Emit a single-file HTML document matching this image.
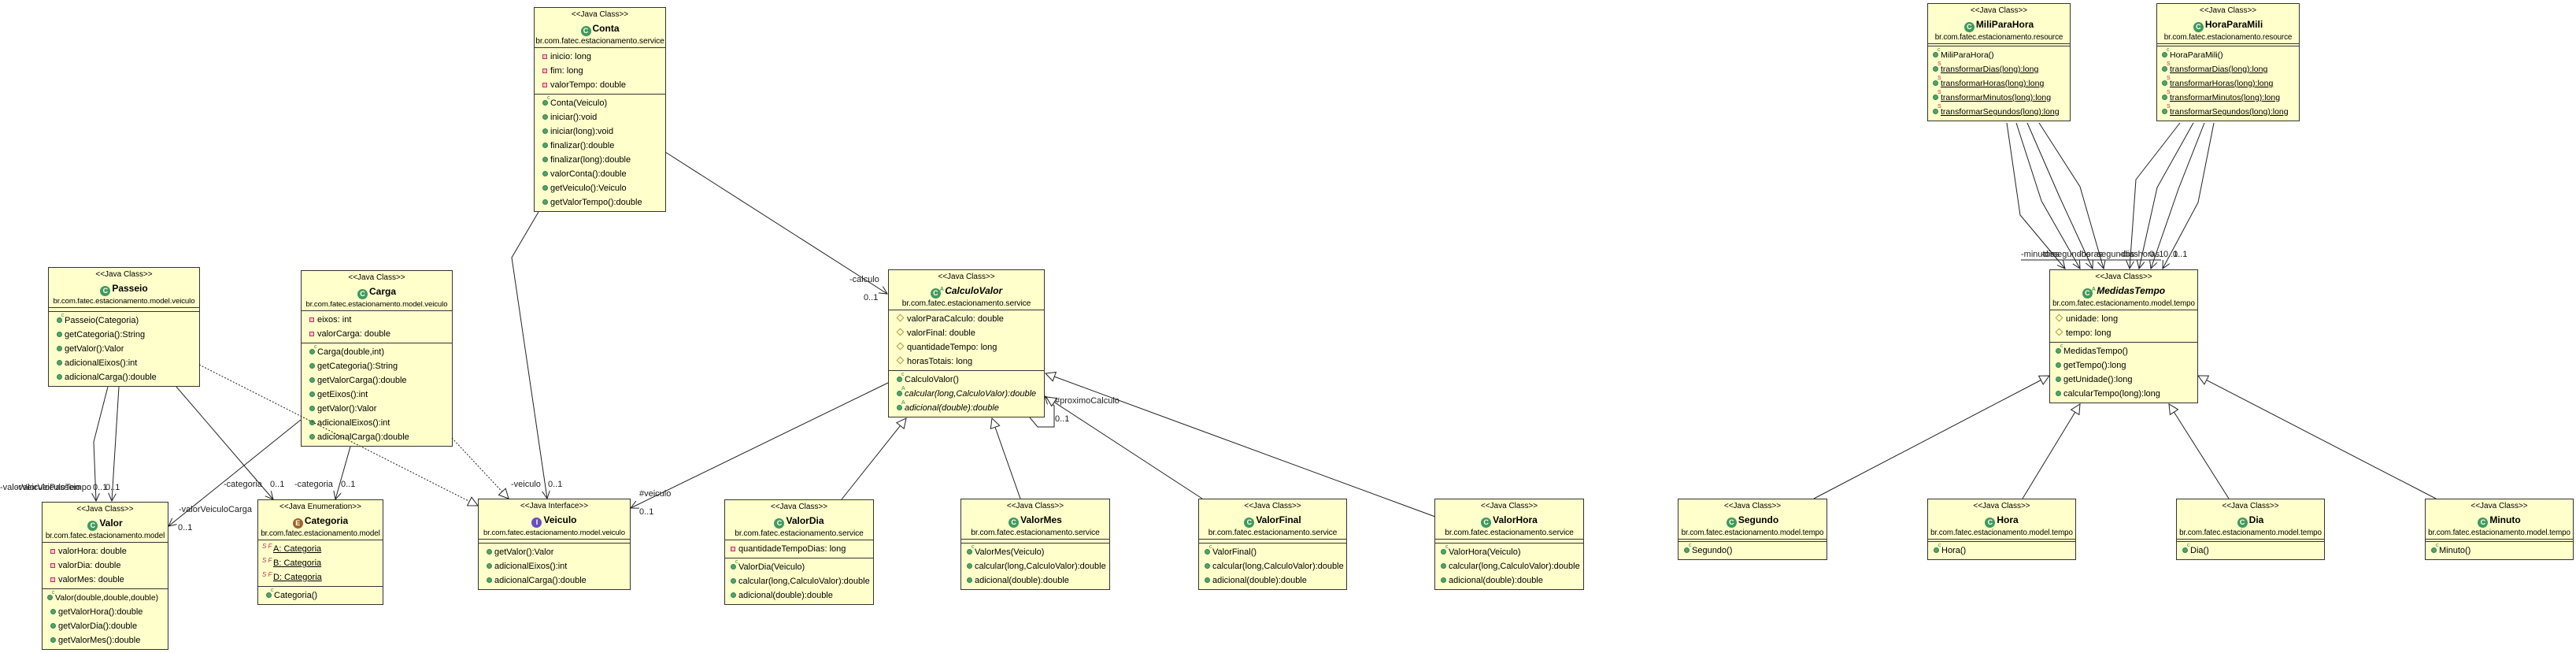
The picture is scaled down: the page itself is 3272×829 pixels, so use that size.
<!DOCTYPE html>
<html><head><meta charset="utf-8">
<style>
html,body{margin:0;padding:0;background:#fff;}
body{width:3272px;height:829px;position:relative;overflow:hidden;font-family:"Liberation Sans",Arial,sans-serif;color:#000;}
.b{position:absolute;box-sizing:border-box;background:#ffffcc;border:1px solid #333;}
.hd{height:51px;border-bottom:1px solid #333;text-align:center;white-space:nowrap;padding-top:1px;box-sizing:border-box;}
.st{font-size:10px;line-height:16px;}
.nm{font-size:12px;font-weight:bold;line-height:18px;}
.nm.it{font-style:italic;}
.pk{font-size:10.3px;line-height:14px;letter-spacing:-0.1px;}
.pk.v{font-size:9.6px;letter-spacing:-0.1px;}
.sec{padding:2px 0;border-bottom:1px solid #333;}
.sec:last-child{border-bottom:none;}
.r{height:18px;line-height:18px;font-size:11px;padding-left:10px;white-space:nowrap;position:relative;}
.r.it{font-style:italic;}
.r u{text-decoration:underline;}
.ic{display:inline-block;width:13px;height:13px;border-radius:50%;background:#3f9a5c;color:#fff;font-size:9px;font-style:normal;font-weight:bold;line-height:13px;text-align:center;vertical-align:-2px;margin-right:2px;position:relative;}
.ic.e{background:#a0642a;}
.ic.i{background:#6a4fc0;}
.ic sup{position:absolute;top:-5px;right:-4px;font-size:7px;color:#3f9a5c;}
.g{display:inline-block;width:7px;height:7px;border-radius:50%;background:#4fa46a;border:1px solid #3a8050;box-sizing:border-box;margin-right:3px;vertical-align:-0px;position:relative;}
.g b{position:absolute;left:5px;top:-7px;font-size:7px;font-weight:normal;line-height:8px;color:#2e8a4a;font-style:normal;}
.g b.s{color:#b0304a;}
.pv{display:inline-block;width:6px;height:6px;border:1.5px solid #c03a3a;background:#fbe;box-sizing:border-box;margin-right:4px;}
.pt{display:inline-block;width:5px;height:5px;border:1px solid #b09a40;transform:rotate(45deg);margin-right:5px;margin-left:1px;vertical-align:1px;}
.sf{display:inline-block;width:14px;font-size:8px;color:#b0304a;vertical-align:4px;line-height:8px;}
svg{position:absolute;left:0;top:0;}
svg text{font-family:"Liberation Sans",Arial,sans-serif;font-size:11px;fill:#222;}
</style></head><body>

<div class="b" style="left:678px;top:9px;width:168px;">
<div class="hd"><div class="st">&lt;&lt;Java Class&gt;&gt;</div><div class="nm"><i class="ic">C</i>Conta</div><div class="pk">br.com.fatec.estacionamento.service</div></div>
<div class="sec"><div class="r"><i class="pv"></i>inicio: long</div><div class="r"><i class="pv"></i>fim: long</div><div class="r"><i class="pv"></i>valorTempo: double</div></div>
<div class="sec"><div class="r"><i class="g"><b>c</b></i>Conta(Veiculo)</div><div class="r"><i class="g"></i>iniciar():void</div><div class="r"><i class="g"></i>iniciar(long):void</div><div class="r"><i class="g"></i>finalizar():double</div><div class="r"><i class="g"></i>finalizar(long):double</div><div class="r"><i class="g"></i>valorConta():double</div><div class="r"><i class="g"></i>getVeiculo():Veiculo</div><div class="r"><i class="g"></i>getValorTempo():double</div></div>
</div>

<div class="b" style="left:61px;top:339px;width:193px;">
<div class="hd"><div class="st">&lt;&lt;Java Class&gt;&gt;</div><div class="nm"><i class="ic">C</i>Passeio</div><div class="pk v">br.com.fatec.estacionamento.model.veiculo</div></div>
<div class="sec"></div>
<div class="sec"><div class="r"><i class="g"><b>c</b></i>Passeio(Categoria)</div><div class="r"><i class="g"></i>getCategoria():String</div><div class="r"><i class="g"></i>getValor():Valor</div><div class="r"><i class="g"></i>adicionalEixos():int</div><div class="r"><i class="g"></i>adicionalCarga():double</div></div>
</div>

<div class="b" style="left:382px;top:343px;width:193px;">
<div class="hd"><div class="st">&lt;&lt;Java Class&gt;&gt;</div><div class="nm"><i class="ic">C</i>Carga</div><div class="pk v">br.com.fatec.estacionamento.model.veiculo</div></div>
<div class="sec"><div class="r"><i class="pv"></i>eixos: int</div><div class="r"><i class="pv"></i>valorCarga: double</div></div>
<div class="sec"><div class="r"><i class="g"><b>c</b></i>Carga(double,int)</div><div class="r"><i class="g"></i>getCategoria():String</div><div class="r"><i class="g"></i>getValorCarga():double</div><div class="r"><i class="g"></i>getEixos():int</div><div class="r"><i class="g"></i>getValor():Valor</div><div class="r"><i class="g"></i>adicionalEixos():int</div><div class="r"><i class="g"></i>adicionalCarga():double</div></div>
</div>

<div class="b" style="left:53px;top:637px;width:161px;">
<div class="hd"><div class="st">&lt;&lt;Java Class&gt;&gt;</div><div class="nm"><i class="ic">C</i>Valor</div><div class="pk" style="font-size:9.8px">br.com.fatec.estacionamento.model</div></div>
<div class="sec"><div class="r"><i class="pv"></i>valorHora: double</div><div class="r"><i class="pv"></i>valorDia: double</div><div class="r"><i class="pv"></i>valorMes: double</div></div>
<div class="sec"><div class="r" style="padding-left:6px;font-size:10.5px"><i class="g"><b>c</b></i>Valor(double,double,double)</div><div class="r"><i class="g"></i>getValorHora():double</div><div class="r"><i class="g"></i>getValorDia():double</div><div class="r"><i class="g"></i>getValorMes():double</div></div>
</div>

<div class="b" style="left:327px;top:634px;width:160px;">
<div class="hd"><div class="st">&lt;&lt;Java Enumeration&gt;&gt;</div><div class="nm"><i class="ic e">E</i>Categoria</div><div class="pk" style="font-size:9.8px">br.com.fatec.estacionamento.model</div></div>
<div class="sec"><div class="r" style="padding-left:5px"><i class="sf">S F</i><u>A: Categoria</u></div><div class="r" style="padding-left:5px"><i class="sf">S F</i><u>B: Categoria</u></div><div class="r" style="padding-left:5px"><i class="sf">S F</i><u>D: Categoria</u></div></div>
<div class="sec"><div class="r"><i class="g"><b>c</b></i>Categoria()</div></div>
</div>

<div class="b" style="left:607px;top:633px;width:194px;">
<div class="hd"><div class="st">&lt;&lt;Java Interface&gt;&gt;</div><div class="nm"><i class="ic i">I</i>Veiculo</div><div class="pk v">br.com.fatec.estacionamento.model.veiculo</div></div>
<div class="sec"></div>
<div class="sec"><div class="r"><i class="g"></i>getValor():Valor</div><div class="r"><i class="g"></i>adicionalEixos():int</div><div class="r"><i class="g"></i>adicionalCarga():double</div></div>
</div>

<div class="b" style="left:1128px;top:342px;width:199px;">
<div class="hd"><div class="st">&lt;&lt;Java Class&gt;&gt;</div><div class="nm it"><i class="ic">C<sup>A</sup></i> CalculoValor</div><div class="pk">br.com.fatec.estacionamento.service</div></div>
<div class="sec"><div class="r"><i class="pt"></i>valorParaCalculo: double</div><div class="r"><i class="pt"></i>valorFinal: double</div><div class="r"><i class="pt"></i>quantidadeTempo: long</div><div class="r"><i class="pt"></i>horasTotais: long</div></div>
<div class="sec"><div class="r"><i class="g"><b>c</b></i>CalculoValor()</div><div class="r it"><i class="g"><b>A</b></i>calcular(long,CalculoValor):double</div><div class="r it"><i class="g"><b>A</b></i>adicional(double):double</div></div>
</div>

<div class="b" style="left:920px;top:634px;width:190px;">
<div class="hd"><div class="st">&lt;&lt;Java Class&gt;&gt;</div><div class="nm"><i class="ic">C</i>ValorDia</div><div class="pk">br.com.fatec.estacionamento.service</div></div>
<div class="sec"><div class="r" style="padding-left:7px"><i class="pv"></i>quantidadeTempoDias: long</div></div>
<div class="sec"><div class="r" style="padding-left:7px"><i class="g"><b>c</b></i>ValorDia(Veiculo)</div><div class="r" style="padding-left:7px"><i class="g"></i>calcular(long,CalculoValor):double</div><div class="r" style="padding-left:7px"><i class="g"></i>adicional(double):double</div></div>
</div>

<div class="b" style="left:1220px;top:633px;width:190px;">
<div class="hd"><div class="st">&lt;&lt;Java Class&gt;&gt;</div><div class="nm"><i class="ic">C</i>ValorMes</div><div class="pk">br.com.fatec.estacionamento.service</div></div>
<div class="sec"></div>
<div class="sec"><div class="r" style="padding-left:7px"><i class="g"><b>c</b></i>ValorMes(Veiculo)</div><div class="r" style="padding-left:7px"><i class="g"></i>calcular(long,CalculoValor):double</div><div class="r" style="padding-left:7px"><i class="g"></i>adicional(double):double</div></div>
</div>

<div class="b" style="left:1522px;top:633px;width:189px;">
<div class="hd"><div class="st">&lt;&lt;Java Class&gt;&gt;</div><div class="nm"><i class="ic">C</i>ValorFinal</div><div class="pk">br.com.fatec.estacionamento.service</div></div>
<div class="sec"></div>
<div class="sec"><div class="r" style="padding-left:7px"><i class="g"><b>c</b></i>ValorFinal()</div><div class="r" style="padding-left:7px"><i class="g"></i>calcular(long,CalculoValor):double</div><div class="r" style="padding-left:7px"><i class="g"></i>adicional(double):double</div></div>
</div>

<div class="b" style="left:1822px;top:633px;width:190px;">
<div class="hd"><div class="st">&lt;&lt;Java Class&gt;&gt;</div><div class="nm"><i class="ic">C</i>ValorHora</div><div class="pk">br.com.fatec.estacionamento.service</div></div>
<div class="sec"></div>
<div class="sec"><div class="r" style="padding-left:7px"><i class="g"><b>c</b></i>ValorHora(Veiculo)</div><div class="r" style="padding-left:7px"><i class="g"></i>calcular(long,CalculoValor):double</div><div class="r" style="padding-left:7px"><i class="g"></i>adicional(double):double</div></div>
</div>

<div class="b" style="left:2448px;top:4px;width:182px;">
<div class="hd"><div class="st">&lt;&lt;Java Class&gt;&gt;</div><div class="nm"><i class="ic">C</i>MiliParaHora</div><div class="pk" style="font-size:9.8px">br.com.fatec.estacionamento.resource</div></div>
<div class="sec" style="padding:1px 0"></div>
<div class="sec"><div class="r" style="padding-left:6px;font-size:10.5px"><i class="g"><b>c</b></i>MiliParaHora()</div><div class="r" style="padding-left:6px;font-size:10.5px"><i class="g"><b class="s">S</b></i><u>transformarDias(long):long</u></div><div class="r" style="padding-left:6px;font-size:10.5px"><i class="g"><b class="s">S</b></i><u>transformarHoras(long):long</u></div><div class="r" style="padding-left:6px;font-size:10.5px"><i class="g"><b class="s">S</b></i><u>transformarMinutos(long):long</u></div><div class="r" style="padding-left:6px;font-size:10.5px"><i class="g"><b class="s">S</b></i><u>transformarSegundos(long):long</u></div></div>
</div>

<div class="b" style="left:2739px;top:4px;width:182px;">
<div class="hd"><div class="st">&lt;&lt;Java Class&gt;&gt;</div><div class="nm"><i class="ic">C</i>HoraParaMili</div><div class="pk" style="font-size:9.8px">br.com.fatec.estacionamento.resource</div></div>
<div class="sec" style="padding:1px 0"></div>
<div class="sec"><div class="r" style="padding-left:6px;font-size:10.5px"><i class="g"><b>c</b></i>HoraParaMili()</div><div class="r" style="padding-left:6px;font-size:10.5px"><i class="g"><b class="s">S</b></i><u>transformarDias(long):long</u></div><div class="r" style="padding-left:6px;font-size:10.5px"><i class="g"><b class="s">S</b></i><u>transformarHoras(long):long</u></div><div class="r" style="padding-left:6px;font-size:10.5px"><i class="g"><b class="s">S</b></i><u>transformarMinutos(long):long</u></div><div class="r" style="padding-left:6px;font-size:10.5px"><i class="g"><b class="s">S</b></i><u>transformarSegundos(long):long</u></div></div>
</div>

<div class="b" style="left:2603px;top:342px;width:189px;">
<div class="hd"><div class="st">&lt;&lt;Java Class&gt;&gt;</div><div class="nm it"><i class="ic">C<sup>A</sup></i> MedidasTempo</div><div class="pk" style="font-size:9.8px">br.com.fatec.estacionamento.model.tempo</div></div>
<div class="sec"><div class="r" style="padding-left:7px"><i class="pt"></i>unidade: long</div><div class="r" style="padding-left:7px"><i class="pt"></i>tempo: long</div></div>
<div class="sec"><div class="r" style="padding-left:7px"><i class="g"><b>c</b></i>MedidasTempo()</div><div class="r" style="padding-left:7px"><i class="g"></i>getTempo():long</div><div class="r" style="padding-left:7px"><i class="g"></i>getUnidade():long</div><div class="r" style="padding-left:7px"><i class="g"></i>calcularTempo(long):long</div></div>
</div>

<div class="b" style="left:2131px;top:633px;width:190px;">
<div class="hd"><div class="st">&lt;&lt;Java Class&gt;&gt;</div><div class="nm"><i class="ic">C</i>Segundo</div><div class="pk" style="font-size:9.8px">br.com.fatec.estacionamento.model.tempo</div></div>
<div class="sec" style="padding:1px 0"></div>
<div class="sec"><div class="r" style="padding-left:7px"><i class="g"><b>c</b></i>Segundo()</div></div>
</div>
<div class="b" style="left:2448px;top:633px;width:189px;">
<div class="hd"><div class="st">&lt;&lt;Java Class&gt;&gt;</div><div class="nm"><i class="ic">C</i>Hora</div><div class="pk" style="font-size:9.8px">br.com.fatec.estacionamento.model.tempo</div></div>
<div class="sec" style="padding:1px 0"></div>
<div class="sec"><div class="r" style="padding-left:7px"><i class="g"><b>c</b></i>Hora()</div></div>
</div>
<div class="b" style="left:2764px;top:633px;width:189px;">
<div class="hd"><div class="st">&lt;&lt;Java Class&gt;&gt;</div><div class="nm"><i class="ic">C</i>Dia</div><div class="pk" style="font-size:9.8px">br.com.fatec.estacionamento.model.tempo</div></div>
<div class="sec" style="padding:1px 0"></div>
<div class="sec"><div class="r" style="padding-left:7px"><i class="g"><b>c</b></i>Dia()</div></div>
</div>
<div class="b" style="left:3080px;top:633px;width:189px;">
<div class="hd"><div class="st">&lt;&lt;Java Class&gt;&gt;</div><div class="nm"><i class="ic">C</i>Minuto</div><div class="pk" style="font-size:9.8px">br.com.fatec.estacionamento.model.tempo</div></div>
<div class="sec" style="padding:1px 0"></div>
<div class="sec"><div class="r" style="padding-left:7px"><i class="g"><b>c</b></i>Minuto()</div></div>
</div>

<svg width="3272" height="829" viewBox="0 0 3272 829">
<defs>
<marker id="a" markerUnits="userSpaceOnUse" markerWidth="12" markerHeight="12" refX="10" refY="5" orient="auto"><path d="M0,0 L10,5 L0,10" fill="none" stroke="#222" stroke-width="1"/></marker>
<marker id="t" markerUnits="userSpaceOnUse" markerWidth="16" markerHeight="16" refX="13" refY="7" orient="auto"><path d="M1,1 L13,7 L1,13 Z" fill="#fff" stroke="#222" stroke-width="1"/></marker>
</defs>
<g fill="none" stroke="#222" stroke-width="1">
<polyline points="137,491 119,561 122,636" marker-end="url(#a)"/>
<polyline points="151,491 142,636" marker-end="url(#a)"/>
<polyline points="224,491 347,634" marker-end="url(#a)"/>
<polyline points="382,533 214,668" marker-end="url(#a)"/>
<polyline points="445,567 426,634" marker-end="url(#a)"/>
<polyline points="684,269 650,327 695,633" marker-end="url(#a)"/>
<polyline points="1128,486 801,645" marker-end="url(#a)"/>
<polyline points="845,193 1127,373" marker-end="url(#a)"/>
<polyline points="1308,530 1318,542 1339,542 1339,515 1327,503" marker-end="url(#a)"/>
<polyline points="2549,156 2566,273 2623,341" marker-end="url(#a)"/>
<polyline points="2561,156 2593,255 2642,341" marker-end="url(#a)"/>
<polyline points="2575,156 2616,250 2658,341" marker-end="url(#a)"/>
<polyline points="2590,156 2642,237 2672,341" marker-end="url(#a)"/>
<polyline points="2769,156 2713,228 2705,341" marker-end="url(#a)"/>
<polyline points="2786,156 2740,238 2717,341" marker-end="url(#a)"/>
<polyline points="2800,156 2767,240 2732,341" marker-end="url(#a)"/>
<polyline points="2812,156 2792,257 2747,341" marker-end="url(#a)"/>
<line x1="1069" y1="634" x2="1151" y2="531" marker-end="url(#t)"/>
<line x1="1296" y1="633" x2="1260" y2="531" marker-end="url(#t)"/>
<line x1="1527" y1="633" x2="1329" y2="504" marker-end="url(#t)"/>
<line x1="1823" y1="656" x2="1328" y2="474" marker-end="url(#t)"/>
<line x1="2304" y1="633" x2="2603" y2="477" marker-end="url(#t)"/>
<line x1="2569" y1="633" x2="2642" y2="513" marker-end="url(#t)"/>
<line x1="2831" y1="633" x2="2755" y2="513" marker-end="url(#t)"/>
<line x1="3094" y1="633" x2="2792" y2="477" marker-end="url(#t)"/>
<line x1="253" y1="463" x2="607" y2="642" stroke-dasharray="2,2" marker-end="url(#t)"/>
<line x1="574" y1="556" x2="646" y2="633" stroke-dasharray="2,2" marker-end="url(#t)"/>
<line x1="2567" y1="330" x2="2745" y2="330"/>
</g>
<text x="0" y="622">-valorVeiculoPasseio</text>
<text x="20" y="622">-valorVeiculoTempo</text>
<text x="118" y="622">0..1</text>
<text x="134" y="622">0..1</text>
<text x="284" y="618">-categoria</text>
<text x="343" y="618">0..1</text>
<text x="227" y="650">-valorVeiculoCarga</text>
<text x="226" y="673">0..1</text>
<text x="374" y="618">-categoria</text>
<text x="433" y="618">0..1</text>
<text x="649" y="618">-veiculo</text>
<text x="696" y="618">0..1</text>
<text x="812" y="630">#veiculo</text>
<text x="812" y="653">0..1</text>
<text x="1079" y="358">-calculo</text>
<text x="1097" y="381">0..1</text>
<text x="1340" y="512">#proximoCalculo</text>
<text x="1340" y="535">0..1</text>
<text x="2567" y="326">-minutos</text>
<text x="2592" y="326">-dias</text>
<text x="2604" y="326">-segundos</text>
<text x="2640" y="326">-horas</text>
<text x="2660" y="326">-segundos</text>
<text x="2692" y="326">-dias</text>
<text x="2712" y="326">-horas</text>
<text x="2730" y="326">0..1</text>
<text x="2748" y="326">0..1</text>
<text x="2760" y="326">0..1</text>
</svg>
</body></html>
